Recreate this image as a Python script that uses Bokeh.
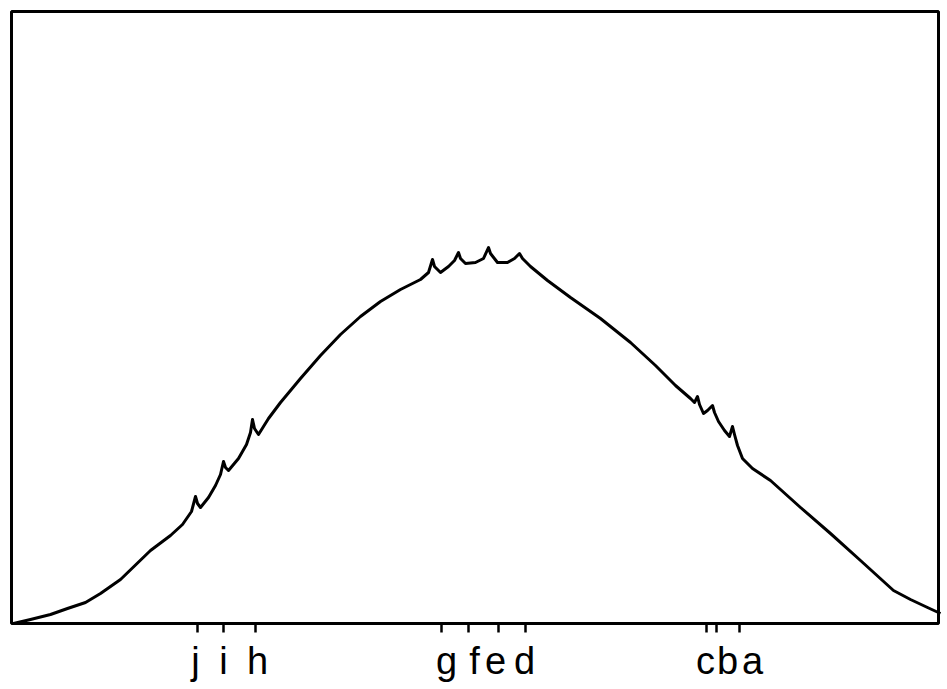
from bokeh.plotting import figure
from bokeh.models import Range1d, ColumnDataSource
from bokeh.core.properties import value
from bokeh.embed import file_html
from bokeh.resources import INLINE

# Spectrum trace (arbitrary units: position along axis, intensity)
pos = [3, 20, 40, 57, 75, 90, 110, 140, 160, 172, 181, 185, 187, 190, 198, 205, 210, 213,
       215, 218, 228, 236, 240, 242, 244, 248, 258, 270, 290, 310, 330, 350, 370, 390,
       410, 418, 422, 424, 430, 438, 444, 448, 450, 455, 465, 473, 478, 480, 487, 497,
       504, 509, 512, 520, 537, 560, 590, 620, 645, 665, 680, 684, 687, 689, 693, 697,
       702, 704, 708, 714, 719, 722, 724, 727, 732, 742, 760, 790, 820, 850, 883, 900,
       917, 930]
intensity = [0, 4, 9, 15, 21, 30, 44, 73, 88, 99, 112, 127, 120, 116, 126, 138, 149, 162,
             156, 153, 165, 179, 191, 204, 195, 189, 205, 221, 245, 268, 289, 307, 322, 334,
             344, 351, 364, 357, 351, 357, 363, 371, 365, 360, 361, 365, 376, 370, 361, 361,
             365, 370, 365, 357, 343, 326, 305, 281, 258, 238, 225, 221, 227, 219, 210, 213,
             218, 211, 202, 193, 187, 197, 189, 178, 165, 155, 143, 116, 90, 63, 33, 24,
             16, 10]

# Line markers
tick_pos = [187, 213, 245, 431, 458, 488, 515, 696, 706, 729]
tick_labels = ["j", "i", "h", "g", "f", "e", "d", "c", "b", "a"]
label_pos = [185, 213, 247, 436, 464, 485, 514, 695, 717, 742]

p = figure(width=946, height=688, output_backend="svg", toolbar_location=None,
           x_range=Range1d(-10, 936), y_range=Range1d(-65, 623),
           min_border=0, min_border_left=0, min_border_right=0,
           min_border_top=0, min_border_bottom=0)
p.axis.visible = False
p.grid.visible = False
p.outline_line_color = None
p.background_fill_color = "white"
p.border_fill_color = "white"

# frame box
p.quad(left=1, right=928, bottom=0, top=612, fill_color=None,
       line_color="black", line_width=3)

# trace
p.line(pos, intensity, line_color="black", line_width=3, line_join="round")

# ticks below the baseline
p.segment(x0=tick_pos, y0=[0] * len(tick_pos), x1=tick_pos, y1=[-9] * len(tick_pos),
          line_color="black", line_width=2.5)

src = ColumnDataSource(dict(x=label_pos, y=[-37] * len(label_pos), t=tick_labels))
p.text(x="x", y="y", text="t", source=src, text_font=value("Liberation Sans"),
       text_font_size="38px", text_align="center", text_baseline="middle",
       text_color="black")

open("out.html", "w").write(file_html(p, INLINE))
